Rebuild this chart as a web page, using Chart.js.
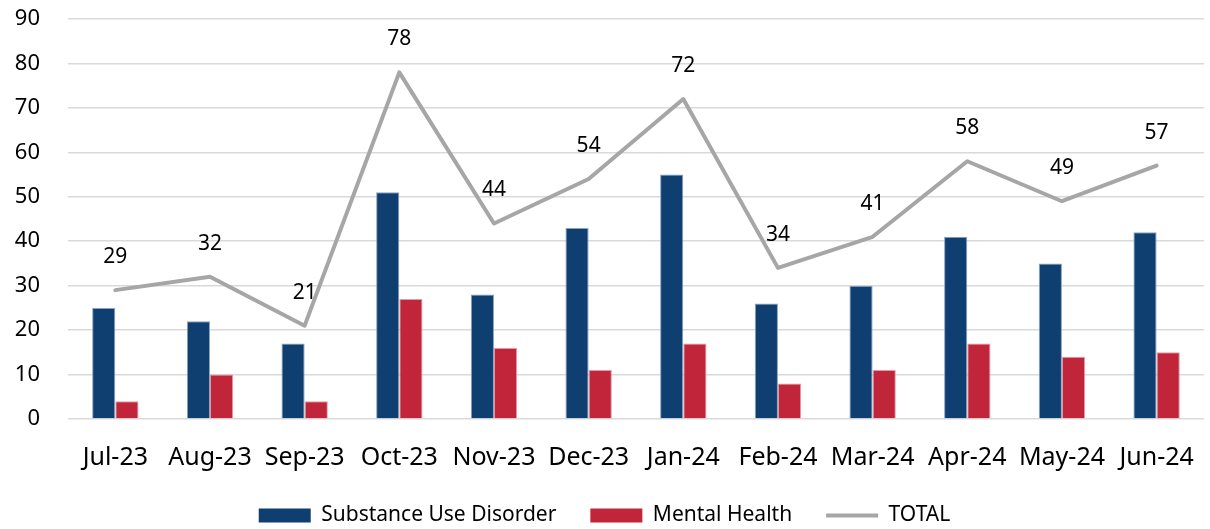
<!DOCTYPE html>
<html>
<head>
<meta charset="utf-8">
<script src="https://cdn.jsdelivr.net/npm/chart.js@4"></script>
<style>
  html, body { margin: 0; padding: 0; background: #ffffff; }
  #wrap { width: 1210px; height: 529px; position: relative; }
</style>
</head>
<body>
<div id="wrap"><canvas id="chart"></canvas></div>
<script>
// 月別データ
const MONTHS = ['Jul-23', 'Aug-23', 'Sep-23', 'Oct-23', 'Nov-23', 'Dec-23', 'Jan-24', 'Feb-24', 'Mar-24', 'Apr-24', 'May-24', 'Jun-24'];
const SUD = [25, 22, 17, 51, 28, 43, 55, 26, 30, 41, 35, 42];
const MENTAL = [4, 10, 4, 27, 16, 11, 17, 8, 11, 17, 14, 15];
const TOTAL = [29, 32, 21, 78, 44, 54, 72, 34, 41, 58, 49, 57];

const BLUE = '#0f3e71';
const RED = '#c1253a';
const GRAY = '#a6a6a6';
const FONT = "'Noto Sans', 'Open Sans', sans-serif";

// 折れ線の上に数値を描く
const totalLabels = {
  id: 'totalLabels',
  afterDatasetsDraw(chart) {
    const meta = chart.getDatasetMeta(2);
    const ctx = chart.ctx;
    ctx.save();
    ctx.fillStyle = '#000000';
    ctx.font = '21px ' + FONT;
    ctx.textAlign = 'center';
    ctx.textBaseline = 'middle';
    meta.data.forEach((pt, i) => {
      ctx.fillText(String(TOTAL[i]), pt.x, pt.y - 33);
    });
    ctx.restore();
  }
};

new Chart(document.getElementById('chart'), {
  data: {
    labels: MONTHS,
    datasets: [
      {
        type: 'bar',
        label: 'Substance Use Disorder',
        data: SUD,
        backgroundColor: BLUE,
        borderColor: '#8aa3c0',
        borderWidth: 1,
        order: 2,
        categoryPercentage: 0.49,
        barPercentage: 1
      },
      {
        type: 'bar',
        label: 'Mental Health',
        data: MENTAL,
        backgroundColor: RED,
        borderColor: '#e59aa5',
        borderWidth: 1,
        order: 2,
        categoryPercentage: 0.49,
        barPercentage: 1
      },
      {
        type: 'line',
        label: 'TOTAL',
        data: TOTAL,
        borderColor: GRAY,
        backgroundColor: GRAY,
        borderWidth: 4,
        pointRadius: 0,
        borderCapStyle: 'round',
        borderJoinStyle: 'round',
        tension: 0,
        order: 1
      }
    ]
  },
  options: {
    responsive: true,
    maintainAspectRatio: false,
    animation: false,
    layout: { padding: { top: 0, left: 4, right: 5, bottom: -7 } },
    plugins: {
      tooltip: { enabled: false },
      legend: {
        position: 'bottom',
        labels: {
          color: '#000000',
          font: { family: FONT, size: 21 },
          usePointStyle: true,
          pointStyleWidth: 52,
          boxHeight: 14,
          padding: 34,
          generateLabels: (chart) => chart.data.datasets.map((ds, i) => ({
            text: ds.label,
            fillStyle: ds.type === 'line' ? 'transparent' : ds.backgroundColor,
            strokeStyle: ds.type === 'line' ? GRAY : ds.backgroundColor,
            lineWidth: ds.type === 'line' ? 4 : 0,
            pointStyle: ds.type === 'line' ? 'line' : 'rect',
            fontColor: '#000000',
            hidden: false,
            datasetIndex: i
          }))
        }
      }
    },
    scales: {
      x: {
        grid: { display: false },
        border: { display: false },
        ticks: { color: '#000000', font: { family: FONT, size: 25 }, padding: 16, maxRotation: 0, minRotation: 0, autoSkip: false },
        afterFit: (scale) => { scale.height = 52; }
      },
      y: {
        min: 0,
        max: 90,
        ticks: { stepSize: 10, color: '#000000', font: { family: FONT, size: 22 }, padding: 28 },
        grid: { color: '#d9d9d9', lineWidth: 1.5, drawTicks: false },
        border: { display: false },
        afterFit: (scale) => {
          scale.width = 64;
          scale.paddingTop = 19;
          scale.paddingBottom = 10;
        }
      }
    }
  },
  plugins: [totalLabels]
});
</script>
</body>
</html>
